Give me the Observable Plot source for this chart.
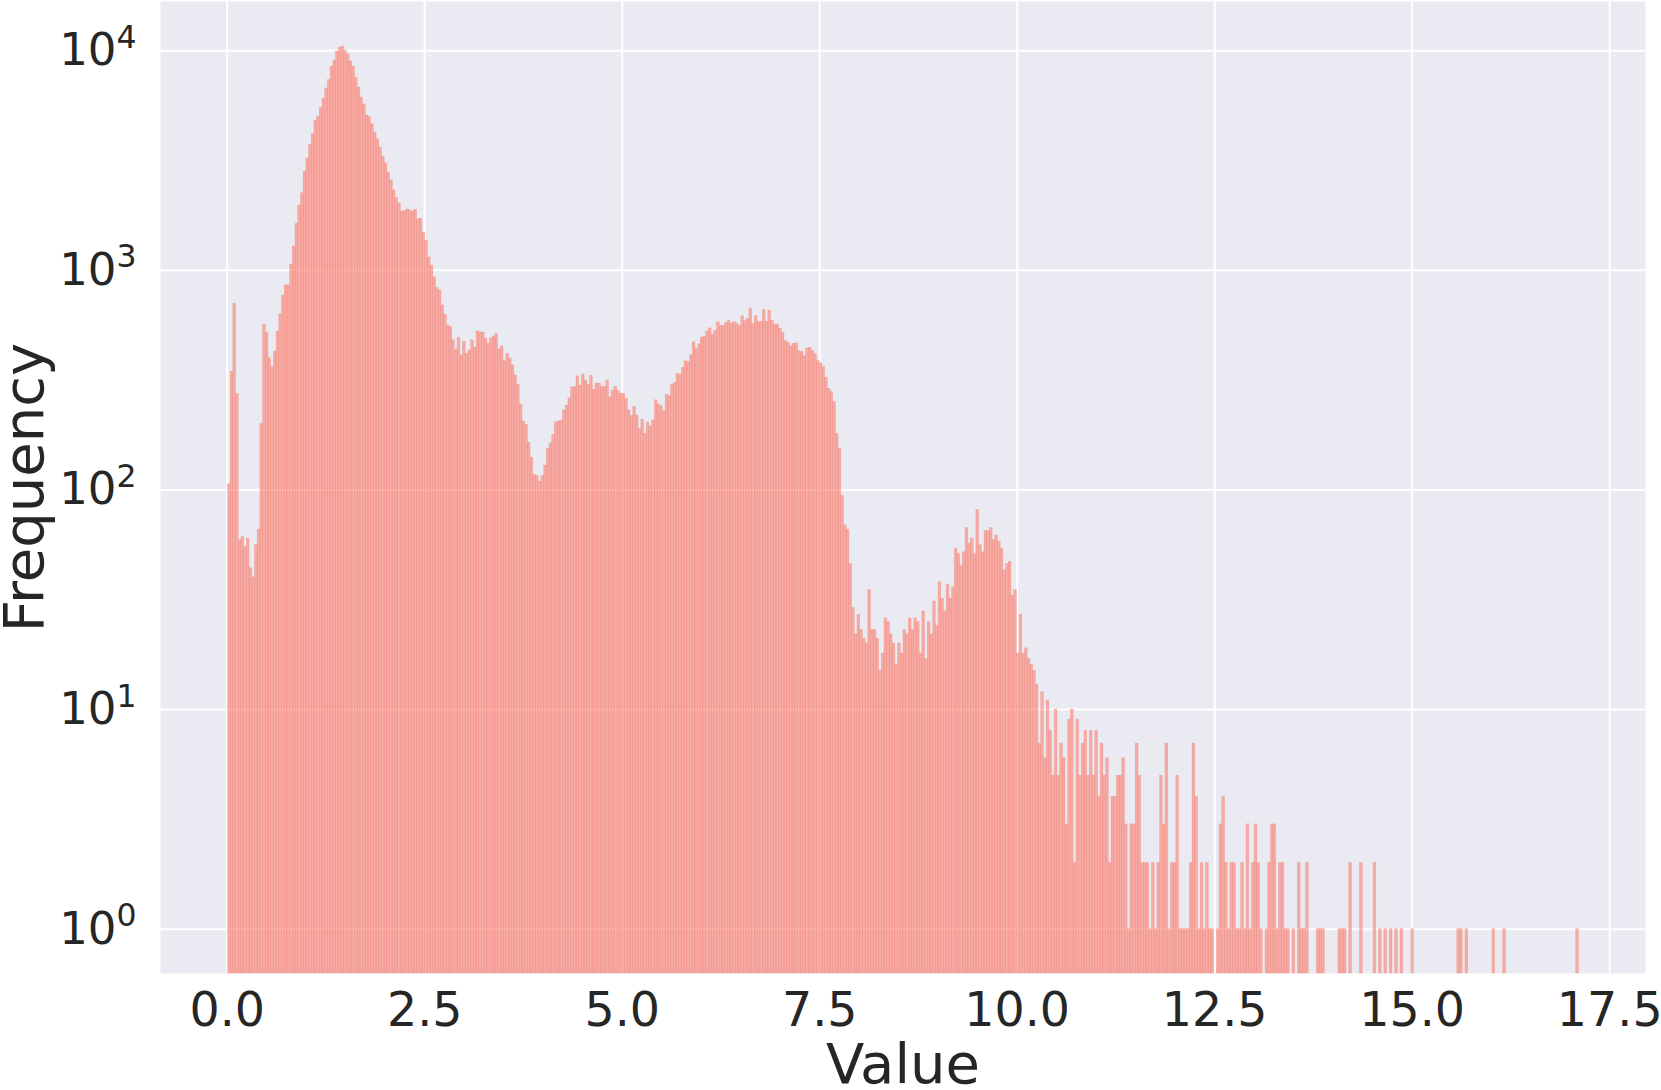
<!DOCTYPE html>
<html><head><meta charset="utf-8">
<script src="https://cdn.jsdelivr.net/npm/d3@7"></script>
<script src="https://cdn.jsdelivr.net/npm/@observablehq/plot@0.6"></script>
<style>body{margin:0;background:#fff} svg{display:block}</style>
</head><body><div id="chart"></div>
<script>
// Histogram: 500 equal-width bins over the data range
const binStart = 0.01;
const binWidth = 0.0342;

// bin counts, in order of bins
const countsA = [ // bins 0-63
  106, 345, 705, 274, 59, 61, 55, 60, 44, 40,
  56, 66, 200, 565, 521, 398, 362, 427, 525, 630,
  766, 854, 854, 1060, 1283, 1625, 1974, 2243, 2808, 3234,
  3718, 4171, 4789, 5012, 5483, 6043, 6734, 7345, 8466, 9023,
  9908, 10285, 10440, 10020, 9614, 8934, 8466, 7510, 6797, 6111,
  5689, 5070, 4977, 4620, 4238, 3947, 3622, 3296, 3070, 2787,
  2566, 2310, 2136, 2017
];
const countsB = [ // bins 64-130
  1854, 1854, 1893, 1874, 1854, 1888, 1705, 1718, 1487, 1368,
  1145, 1050, 929, 830, 810, 692, 628, 561, 552, 480,
  435, 493, 410, 472, 417, 432, 480, 444, 527, 521,
  521, 490, 463, 490, 500, 513, 437, 450, 385, 417,
  396, 369, 332, 301, 245, 205, 198, 164, 140, 117,
  116, 109, 116, 129, 154, 163, 178, 203, 205, 207,
  230, 242, 261, 293, 294, 329, 299
];
const countsC = [ // bins 131-230
  335, 315, 302, 331, 286, 305, 305, 294, 294, 315,
  264, 283, 294, 282, 274, 274, 260, 230, 217, 239,
  218, 189, 209, 180, 203, 195, 207, 256, 245, 241,
  228, 271, 267, 302, 307, 337, 335, 360, 385, 381,
  410, 470, 437, 460, 494, 498, 527, 544, 509, 531,
  579, 557, 560, 577, 589, 571, 581, 571, 557, 617,
  587, 600, 668, 571, 619, 581, 583, 659, 581, 656,
  589, 565, 567, 542, 518, 476, 468, 450, 463, 465,
  428, 425, 406, 440, 444, 429, 415, 386, 376, 363,
  324, 289, 279, 251, 180, 154, 94, 69, 66, 46
];
const countsD = [ // bins 231-300
  29, 22, 27, 23, 21, 20, 35, 23, 23, 21,
  15, 18, 26, 25, 22, 20, 16, 20, 18, 23,
  22, 26, 23, 26, 25, 18, 28, 17, 25, 22,
  31, 24, 38, 32, 28, 37, 32, 36, 54, 51,
  45, 52, 67, 57, 60, 51, 81, 56, 52, 65,
  65, 67, 59, 62, 58, 54, 43, 46, 47, 33,
  35, 18, 27, 18, 19, 17, 16, 15, 13, 7
];
const countsE = [ // bins 301-365
  12, 6, 11, 8, 5, 10, 5, 7, 6, 3,
  9, 10, 2, 9, 5, 7, 8, 5, 8, 5,
  8, 4, 7, 5, 6, 2, 4, 4, 5, 5,
  6, 3, 1, 3, 3, 7, 5, 2, 2, 2,
  1, 2, 1, 2, 5, 3, 7, 1, 2, 2,
  5, 1, 1, 1, 1, 2, 7, 4, 1, 2,
  1, 2, 1, 1, 0
];
const countsF = [ // bins 366-432
  1, 3, 4, 2, 1, 2, 2, 1, 1, 2,
  1, 3, 1, 2, 3, 2, 1, 0, 1, 2,
  3, 3, 1, 2, 2, 1, 1, 0, 1, 0,
  2, 1, 1, 2, 0, 0, 0, 1, 1, 1,
  0, 0, 0, 0, 0, 1, 1, 1, 0, 2,
  0, 0, 0, 2, 0, 0, 0, 0, 2, 0,
  1, 0, 1, 0, 1, 0, 1
];
const countsG = [ // bins 433-499
  0, 1, 0, 0, 0, 1, 0, 0, 0, 0,
  0, 0, 0, 0, 0, 0, 0, 0, 0, 0,
  0, 0, 1, 1, 0, 1, 0, 0, 0, 0,
  0, 0, 0, 0, 0, 1, 0, 0, 0, 1,
  0, 0, 0, 0, 0, 0, 0, 0, 0, 0,
  0, 0, 0, 0, 0, 0, 0, 0, 0, 0,
  0, 0, 0, 0, 0, 0, 1
];

const xTicks = [0, 2.5, 5, 7.5, 10, 12.5, 15, 17.5];
const xTickLabels = ["0.0", "2.5", "5.0", "7.5", "10.0", "12.5", "15.0", "17.5"];
const yTicks = [1, 10, 100, 1000, 10000];
const yTickBase = "10";
const yTickExponents = ["0", "1", "2", "3", "4"];
const xLabel = "Value";
const yLabel = "Frequency";

const xDomain = [-0.844, 17.953];
const yDomain = [0.6286, 16750];

const counts = [].concat(countsA, countsB, countsC, countsD, countsE, countsF, countsG);
const bins = counts
  .map((c, i) => ({x1: binStart + i * binWidth, x2: binStart + (i + 1) * binWidth, count: c}))
  .filter(d => d.count > 0);

const textColor = "#262626";
const chart = Plot.plot({
  width: 1661,
  height: 1090,
  marginLeft: 160,
  marginRight: 16,
  marginTop: 1,
  marginBottom: 117,
  style: {fontFamily: "'DejaVu Sans', sans-serif", background: "#ffffff", color: textColor},
  x: {domain: xDomain},
  y: {type: "log", domain: yDomain},
  marks: [
    Plot.frame({fill: "#EAEAF2", stroke: null}),
    Plot.gridX(xTicks, {stroke: "#ffffff", strokeOpacity: 1, strokeWidth: 2}),
    Plot.gridY(yTicks, {stroke: "#ffffff", strokeOpacity: 1, strokeWidth: 2}),
    Plot.rectY(bins, {
      x1: "x1", x2: "x2", y1: yDomain[0], y2: "count",
      fill: "#FA8072", fillOpacity: 0.6,
      stroke: "#FA8072", strokeOpacity: 0.45, strokeWidth: 0.6
    }),
    Plot.axisX({ticks: xTicks, tickSize: 0, tickPadding: 19, fontSize: 47.5, label: null,
      tickFormat: d => xTickLabels[xTicks.indexOf(d)], fill: textColor}),
    Plot.axisY({ticks: yTicks, tickSize: 0, tickPadding: 24, fontSize: 45, label: null,
      tickFormat: d => yTickBase + "^" + yTickExponents[yTicks.indexOf(d)], fill: textColor}),
    Plot.text([xLabel], {frameAnchor: "bottom", dy: 92, fontSize: 56, fill: textColor,
      textAnchor: "middle", lineAnchor: "middle"}),
    Plot.text([yLabel], {frameAnchor: "left", dx: -135, rotate: -90, fontSize: 56, fill: textColor,
      textAnchor: "middle", lineAnchor: "middle"})
  ]
});

// render the y tick labels as 10 with a raised, smaller exponent
d3.select(chart).selectAll('g[aria-label="y-axis tick label"] text').each(function() {
  const t = d3.select(this);
  const parts = t.text().split("^");
  if (parts.length !== 2) return;
  t.text(parts[0]);
  t.append("tspan").attr("font-size", "0.7em").attr("dy", "-0.55em").text(parts[1]);
});

document.getElementById("chart").appendChild(chart);
</script>
</body></html>
